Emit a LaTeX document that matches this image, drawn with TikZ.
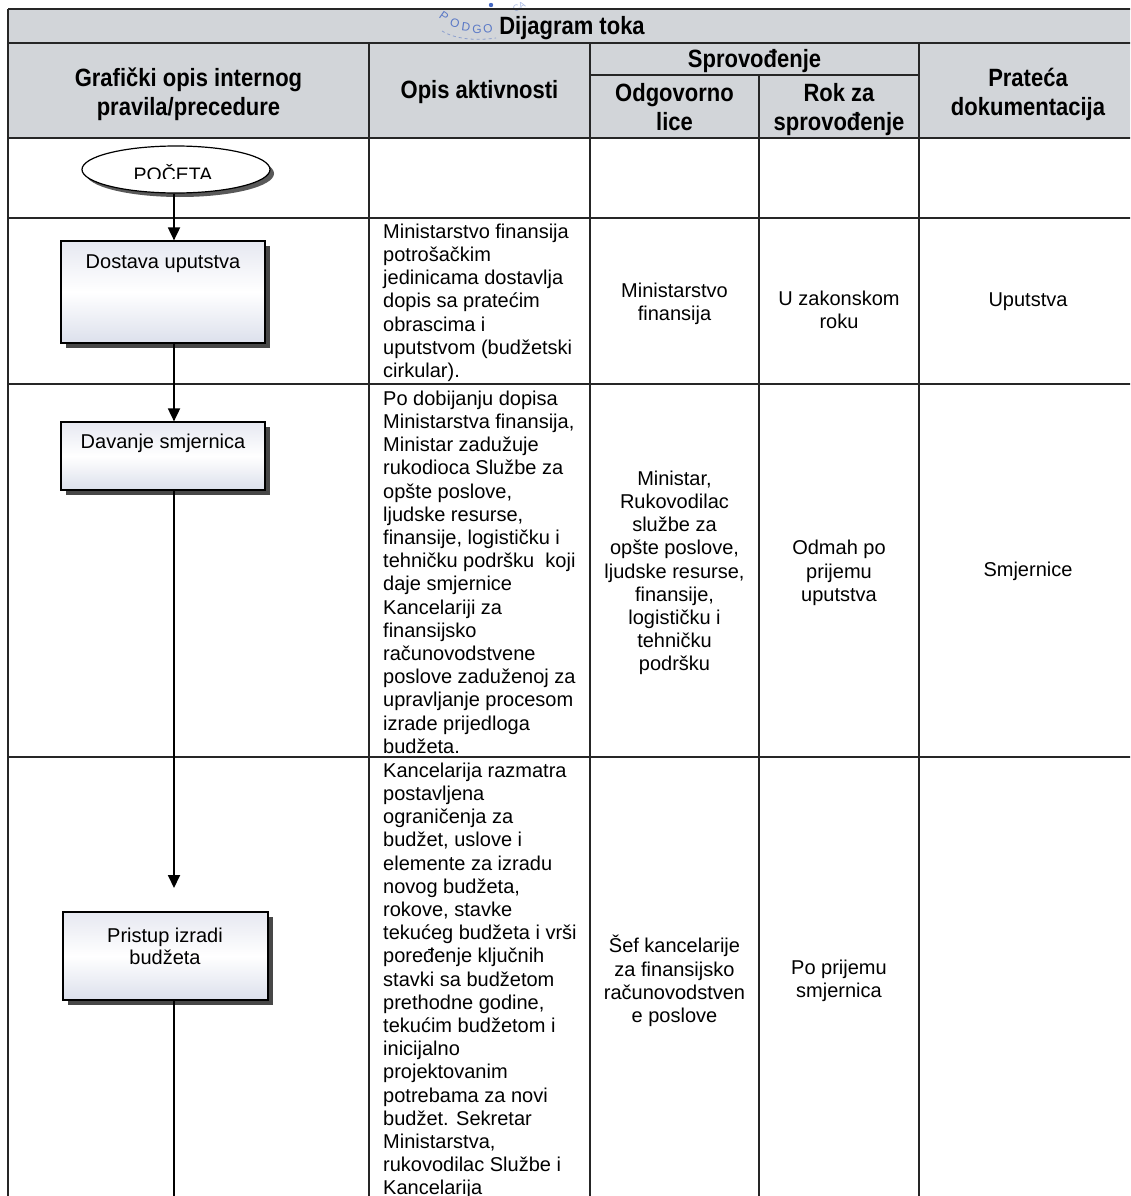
\documentclass[tikz,border=0pt]{standalone}
\usepackage{fontspec}
\setmainfont{Liberation Sans}
\newfontfamily\hdrfont[FakeStretch=0.88]{Liberation Sans}
\usetikzlibrary{arrows.meta,shadows,shapes.geometric,calc}
\definecolor{hdrgray}{RGB}{210,213,217}
\definecolor{stampblue}{RGB}{70,105,195}
\definecolor{boxtop}{RGB}{230,232,241}
\definecolor{boxbot}{RGB}{220,224,236}
\begin{document}
\begin{tikzpicture}[x=1pt,y=-1pt,
  tline/.style={line width=1.3pt, draw=black!85},
  hdr/.style={font=\hdrfont\bfseries\fontsize{25}{29}\selectfont, inner sep=0pt, align=center},
  cell/.style={font=\fontsize{20}{23.2}\selectfont, inner sep=0pt, align=center},
  desc/.style={font=\fontsize{20}{23.2}\selectfont, inner sep=0pt, align=left, anchor=north west},
  procbox/.style={draw=black, line width=1.2pt, top color=boxtop, bottom color=boxbot, middle color=white, inner sep=0pt,
    drop shadow={shadow xshift=5pt, shadow yshift=-5pt, fill=black!72, opacity=1}},
  boxtxt/.style={font=\fontsize{20}{22}\selectfont, inner sep=0pt, align=center},
  startshape/.style={ellipse, draw=black, line width=1.2pt, fill=white, minimum width=188pt, minimum height=47pt, inner sep=0pt,
    drop shadow={shadow xshift=4pt, shadow yshift=-4pt, fill=black!65, opacity=1}},
  flow/.style={line width=1.8pt, -{Triangle[length=13pt,width=12pt]}},
  flowplain/.style={line width=1.8pt},
  stamp/.style={text=stampblue, font=\fontsize{12}{12}\selectfont, inner sep=0pt, opacity=0.85},
]
\useasboundingbox (0,0) rectangle (1130,1196);
\clip (0,0) rectangle (1130,1196);
\fill[white] (0,0) rectangle (1130,1196);

% header fills
\fill[hdrgray] (8,9) rectangle (1137,138);

% stamp
\node[stamp, rotate=-35] (s1) at (444,16) {P};
\node[stamp, rotate=-20] (s2) at (455,23) {O};
\node[stamp, rotate=-8] (s3) at (466,27) {D};
\node[stamp] (s4) at (477,29) {G};
\node[stamp, rotate=8] (s5) at (488,29) {O};
\fill[stampblue] (491,5) circle (2.2);
\node[stamp, opacity=0.45, rotate=30, font=\fontsize{9}{9}\selectfont] (s6) at (519,7) {CA};
\draw[stampblue, opacity=0.5, dashed, line width=0.8pt] (442,31) .. controls (455,39) and (475,41) .. (496,38);

% table grid
\draw[tline] (8,9) -- (1137,9);
\draw[tline] (8,43) -- (1137,43);
\draw[tline] (590,75) -- (919,75);
\draw[tline] (8,138) -- (1137,138);
\draw[tline] (8,218) -- (1137,218);
\draw[tline] (8,384) -- (1137,384);
\draw[tline] (8,757) -- (1137,757);
\draw[tline] (8,9) -- (8,1200);
\draw[tline] (369,43) -- (369,1200);
\draw[tline] (590,43) -- (590,1200);
\draw[tline] (759,75) -- (759,1200);
\draw[tline] (919,43) -- (919,1200);

% header texts
\node[hdr, anchor=base] (title) at (572,35) {Dijagram toka};
\node[hdr, anchor=north] (h1) at (188.5,65.7) {\strut Grafički opis internog\\pravila/precedure};
\node[hdr, anchor=base] (h2) at (479.5,99) {Opis aktivnosti};
\node[hdr, anchor=base] (h3) at (754.5,68) {Sprovođenje};
\node[hdr, anchor=north] (h4) at (674.5,80.7) {\strut Odgovorno\\lice};
\node[hdr, anchor=north] (h5) at (839,80.7) {\strut Rok za\\sprovođenje};
\node[hdr, anchor=north] (h6) at (1028,65.7) {\strut Prateća\\dokumentacija};

% row 2
\node[desc] (d2) at (383,221.9) {\strut Ministarstvo finansija\\potrošačkim\\jedinicama dostavlja\\dopis sa pratećim\\obrascima i\\uputstvom (budžetski\\cirkular).};
\node[cell] (o2) at (674.5,304) {Ministarstvo\\finansija};
\node[cell] (r2) at (839,310) {U zakonskom\\roku};
\node[cell] (p2) at (1028,302) {Uputstva};

% row 3
\node[desc] (d3) at (383,388.9) {\strut Po dobijanju dopisa\\Ministarstva finansija,\\Ministar zadužuje\\rukodioca Službe za\\opšte poslove,\\ljudske resurse,\\finansije, logističku i\\tehničku podršku~ koji\\daje smjernice\\Kancelariji za\\finansijsko\\računovodstvene\\poslove zaduženoj za\\upravljanje procesom\\izrade prijedloga\\budžeta.};
\node[cell] (o3) at (674.5,573) {Ministar,\\Rukovodilac\\službe za\\opšte poslove,\\ljudske resurse,\\finansije,\\logističku i\\tehničku\\podršku};
\node[cell] (r3) at (839,573) {Odmah po\\prijemu\\uputstva};
\node[cell] (p3) at (1028,571) {Smjernice};

% row 4
\node[desc] (d4) at (383,760.9) {\strut Kancelarija razmatra\\postavljena\\ograničenja za\\budžet, uslove i\\elemente za izradu\\novog budžeta,\\rokove, stavke\\tekućeg budžeta i vrši\\poređenje ključnih\\stavki sa budžetom\\prethodne godine,\\tekućim budžetom i\\inicijalno\\projektovanim\\potrebama za novi\\budžet. Sekretar\\Ministarstva,\\rukovodilac Službe i\\Kancelarija};
\node[cell] (o4) at (674.5,981) {Šef kancelarije\\za finansijsko\\računovodstven\\e poslove};
\node[cell] (r4) at (839,981) {Po prijemu\\smjernica};

% flowchart shapes
\node[startshape] (start) at (176,169.5) {};
\begin{scope}
\clip (80,140) rectangle (270,178);
\node[boxtxt, font=\fontsize{19.5}{22}\selectfont, anchor=base] (starttxt) at (173,181) {POČETA};
\end{scope}

\node[procbox, minimum width=204pt, minimum height=102pt] (b1) at (163,292) {};
\node[boxtxt, anchor=base] (t1) at (163,268) {Dostava uputstva};

\node[procbox, minimum width=204pt, minimum height=68pt] (b2) at (163,456) {};
\node[boxtxt, anchor=base] (t2) at (163,448) {Davanje smjernica};

\node[procbox, minimum width=205pt, minimum height=88pt] (b3) at (165.5,956) {};
\node[boxtxt, anchor=north] (t3) at (165,926.6) {\strut Pristup izradi\\budžeta};

% connectors
\coordinate (ax) at (174,0);
\coordinate (a3) at (174,888);
\coordinate (a4) at (174,1205);
\draw[flow] (start.south -| ax) -- (b1.north -| ax);
\draw[flow] (b1.south -| ax) -- (b2.north -| ax);
\draw[flow] (b2.south -| ax) -- (a3);
\draw[flowplain] (b3.south -| ax) -- (a4);
\end{tikzpicture}
\end{document}
